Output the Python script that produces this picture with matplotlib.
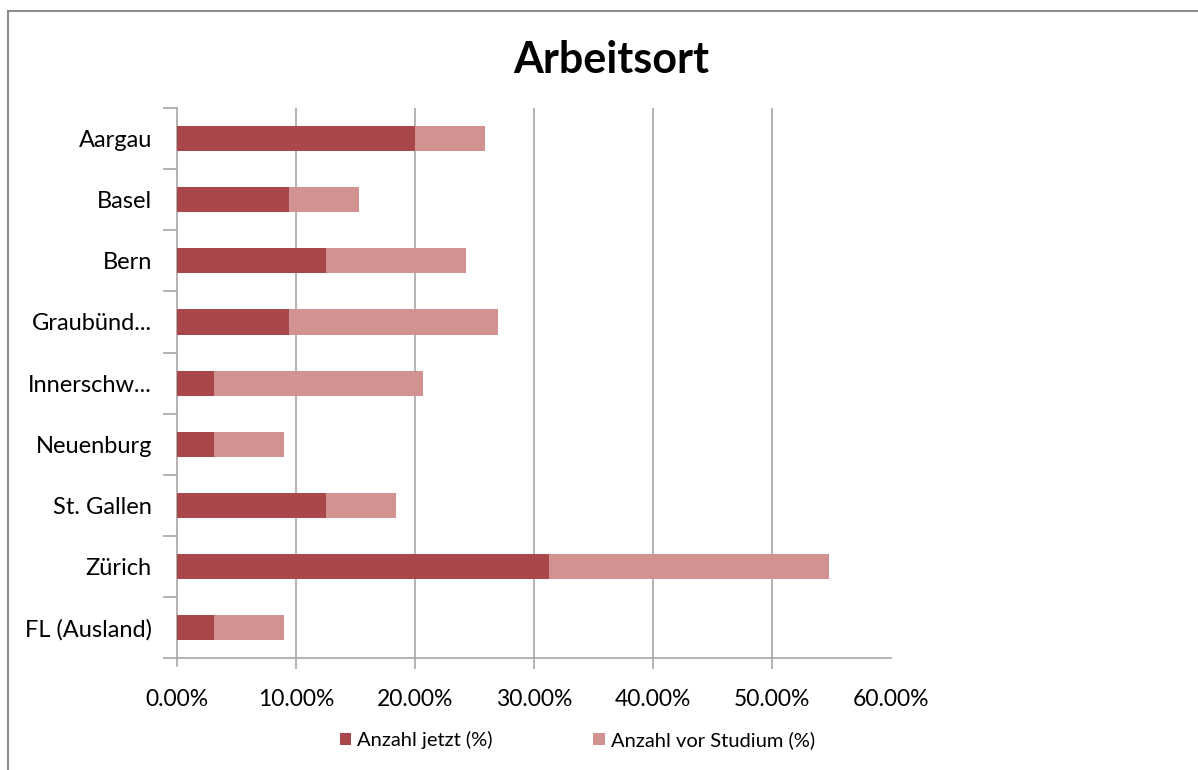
import numpy as np
import matplotlib.pyplot as plt
from matplotlib.lines import Line2D

plt.rcParams['font.family'] = ['Lato', 'DejaVu Sans']

regions = ['Aargau', 'Basel', 'Bern', 'Graubünd...', 'Innerschw...',
           'Neuenburg', 'St. Gallen', 'Zürich', 'FL (Ausland)']
anzahl_jetzt = [20.0, 9.4, 12.5, 9.4, 3.1, 3.1, 12.5, 31.3, 3.1]
anzahl_vor_studium = [5.9, 5.9, 11.8, 17.6, 17.6, 5.9, 5.9, 23.5, 5.9]
xticks = [0, 10, 20, 30, 40, 50, 60]

dark = '#A9474A'
light = '#D39292'
grid_col = '#A6A6A6'

fig = plt.figure(figsize=(11.98, 7.7), dpi=100)
ax = fig.add_axes([0.1477, 0.1455, 0.596, 0.714])

y = np.arange(len(regions))
ax.barh(y, anzahl_jetzt, height=0.41, color=dark, label='Anzahl jetzt (%)', zorder=3)
ax.barh(y, anzahl_vor_studium, left=anzahl_jetzt, height=0.41, color=light,
        label='Anzahl vor Studium (%)', zorder=3)

ax.set_xlim(0, 60)
ax.set_ylim(len(regions) - 0.5, -0.5)

ax.set_xticks(xticks)
ax.set_xticklabels([f'{v:.2f}%' for v in xticks], fontsize=16.5)
ax.set_yticks(y)
ax.set_yticklabels(regions, fontsize=17)
ax.set_yticks(np.arange(-0.5, len(regions)), minor=True)

ax.tick_params(axis='y', which='major', length=0, pad=18)
ax.tick_params(axis='y', which='minor', length=10, width=1.2, color=grid_col, direction='out')
ax.tick_params(axis='x', length=8, width=1.2, color=grid_col, pad=14)

ax.grid(axis='x', color=grid_col, linewidth=1.2, zorder=0)
for t in ax.xaxis.get_major_ticks():
    if t.get_loc() in (0, 60):
        t.tick1line.set_visible(False)
        t.gridline.set_visible(False)

for side in ['top', 'right']:
    ax.spines[side].set_visible(False)
for side in ['left', 'bottom']:
    ax.spines[side].set_color(grid_col)
    ax.spines[side].set_linewidth(1.2)
ax.spines['left'].set_bounds(len(regions) - 0.5 + 0.13, -0.5)

fig.text(0.51, 0.922, 'Arbeitsort', ha='center', va='center', fontsize=31, fontweight='bold')

handles, labels = ax.get_legend_handles_labels()
fig.legend(handles, labels, loc='center', bbox_to_anchor=(0.482, 0.039), ncol=2,
           frameon=False, fontsize=14.5, handlelength=0.55, handleheight=0.55,
           handletextpad=0.3, columnspacing=5)

# chart frame (left and top edges visible)
fig.add_artist(Line2D([0.0068, 0.0068], [0, 0.986], color='#8C8C8C', linewidth=1.5))
fig.add_artist(Line2D([0.0068, 1.0], [0.986, 0.986], color='#8C8C8C', linewidth=1.5))

fig.savefig('out.png', dpi=100)
